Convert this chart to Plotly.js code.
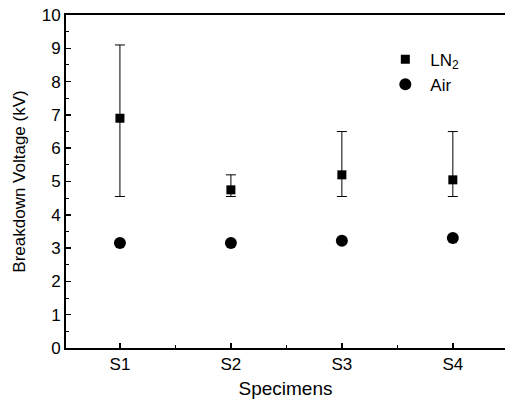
<!DOCTYPE html>
<html>
<head>
<meta charset="utf-8">
<script src="https://cdn.plot.ly/plotly-3.0.1.min.js"></script>
<style>html,body{margin:0;padding:0;background:#fff;}#chart{width:505px;height:400px;}</style>
</head>
<body>
<div id="chart"></div>
<script>
const specimens = ["S1", "S2", "S3", "S4"];
const ln2Values = [6.9, 4.75, 5.2, 5.05];
const ln2ErrHigh = [9.1, 5.2, 6.5, 6.5];
const ln2ErrLow = [4.55, 4.55, 4.55, 4.55];
const airValues = [3.15, 3.15, 3.22, 3.3];
const yTicks = [0,1,2,3,4,5,6,7,8,9,10];

const pos = specimens.map((_, i) => i);
const errPlus = ln2Values.map((v, i) => ln2ErrHigh[i] - v);
const errMinus = ln2Values.map((v, i) => v - ln2ErrLow[i]);

const traces = [
  {
    x: pos, y: ln2Values, type: 'scatter', mode: 'markers', name: 'LN<sub>2</sub>',
    marker: {symbol: 'square', size: 9, color: '#000'},
    error_y: {type: 'data', symmetric: false, array: errPlus, arrayminus: errMinus,
              color: '#000', thickness: 1, width: 5}
  },
  {
    x: pos, y: airValues, type: 'scatter', mode: 'markers', name: 'Air',
    marker: {symbol: 'circle', size: 12, color: '#000'}
  }
];

const font = {family: 'Liberation Sans, Arial, sans-serif', color: '#000'};

const layout = {
  width: 505, height: 400,
  margin: {l: 66, r: 0, t: 15, b: 52},
  paper_bgcolor: '#fff', plot_bgcolor: '#fff',
  font: font,
  showlegend: true,
  legend: {x: 0.716, y: 0.92, xanchor: 'left', yanchor: 'top', bgcolor: 'rgba(0,0,0,0)',
           itemwidth: 40,
           font: {family: font.family, size: 17, color: '#000'}, tracegroupgap: 0},
  xaxis: {
    range: [-0.486, 3.47], tickmode: 'array', tickvals: pos, ticktext: specimens,
    showgrid: false, zeroline: false, showline: true, linecolor: '#000', linewidth: 2,
    mirror: true, ticks: 'inside', ticklen: 5, tickwidth: 1.5, tickcolor: '#000',
    minor: {dtick: 0.5, tick0: 0, ticks: 'inside', ticklen: 3, tickwidth: 1, tickcolor: '#000'},
    tickfont: {family: font.family, size: 17, color: '#000'},
    title: {text: 'Specimens', font: {family: font.family, size: 19, color: '#000'}, standoff: 8}
  },
  yaxis: {
    range: [0, 10], tickmode: 'array', tickvals: yTicks,
    showgrid: false, zeroline: false, showline: true, linecolor: '#000', linewidth: 2,
    mirror: false, ticks: 'inside', ticklen: 5, tickwidth: 1.5, tickcolor: '#000',
    minor: {dtick: 0.5, tick0: 0, ticks: 'inside', ticklen: 3, tickwidth: 1, tickcolor: '#000'},
    tickfont: {family: font.family, size: 17, color: '#000'},
    title: {text: 'Breakdown Voltage (kV)', font: {family: font.family, size: 17, color: '#000'}, standoff: 12}
  }
};

Plotly.newPlot('chart', traces, layout, {displayModeBar: false, staticPlot: true});
</script>
</body>
</html>
